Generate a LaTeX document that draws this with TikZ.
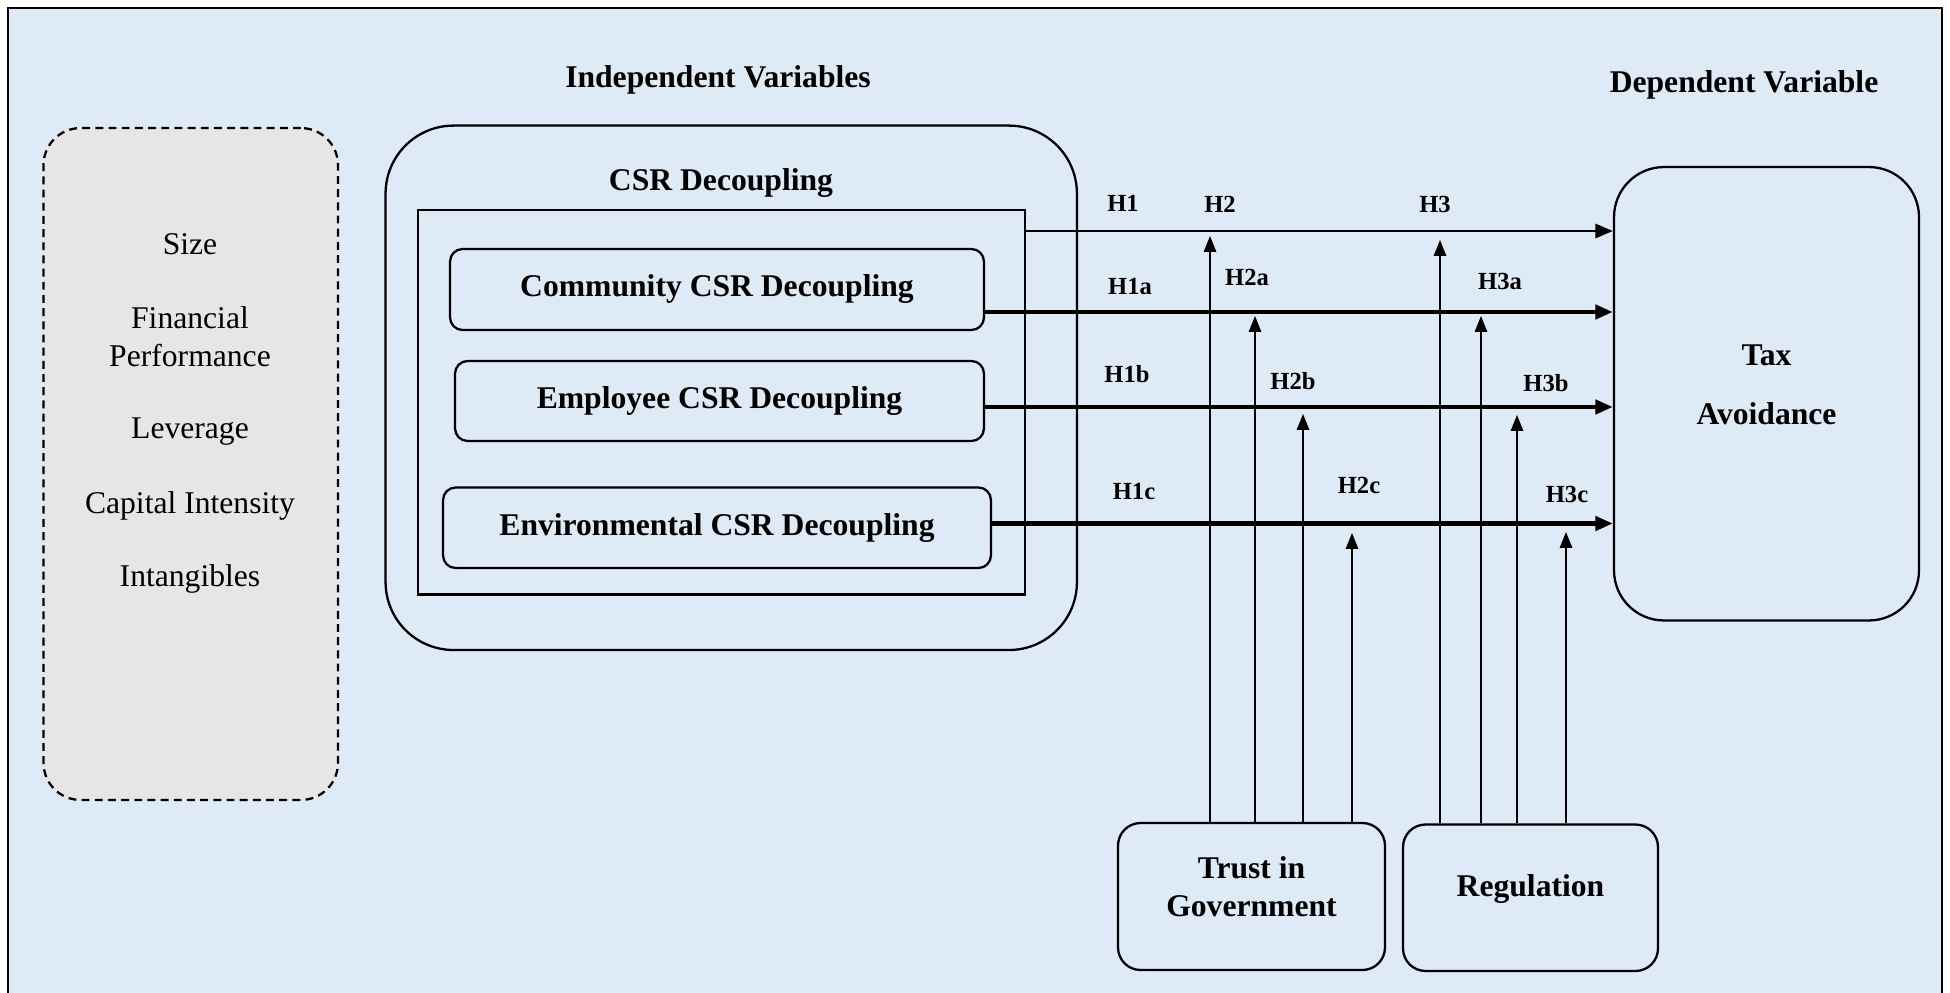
\documentclass[tikz,border=0pt]{standalone}
\usepackage{fontspec}
\setmainfont{Liberation Serif}
\usetikzlibrary{arrows.meta}
\definecolor{cBg}{HTML}{DEEAF6}
\definecolor{cCtl}{HTML}{E6E6E6}

\begin{document}
\begin{tikzpicture}[x=0.02cm, y=-0.02cm, font=\fontsize{18}{21.6}\selectfont,
  box/.style={draw, line width=1.3pt, rounded corners=#1, align=center, inner sep=0pt},
  box/.default=0.25cm,
  bold/.style={font=\bfseries\fontsize{18}{21.6}\selectfont},
  hyp/.style={font=\bfseries\fontsize{14}{16}\selectfont},
  mainarrow/.style={-{Triangle[length=10pt, width=8pt]}, line width=2.8pt},
  modarrow/.style={-{Triangle[length=9pt, width=7pt]}, line width=0.9pt}]
  \useasboundingbox (0,0) rectangle (1950,993);
  \draw[fill=cBg, line width=1.5pt] (8,8) rectangle (1942,1010);
  % headings
  \node[bold] (indep) at (718,80) {Independent Variables};
  \node[bold] (dep) at (1744,85) {Dependent Variable};
  % control variables
  \node[box=0.74cm, fill=cCtl, dash pattern=on 4.5pt off 3pt, minimum width=5.89cm, minimum height=13.44cm] (ctl) at (190.75,464) {};
  \foreach \y/\lab [count=\i] in {244/Size, 337/{Financial\\Performance}, 432/Leverage, 506/Capital Intensity, 579/Intangibles}
    \node[align=center] (ctl\i) at (190,\y) {\lab};
  % CSR decoupling
  \node[box=1.36cm, minimum width=13.83cm, minimum height=10.49cm] (csr) at (731.25,387.8) {};
  \node[bold] (csrtitle) at (721,183) {CSR Decoupling};
  \node[draw, line width=1.3pt, inner sep=0pt, minimum width=12.14cm, minimum height=7.69cm] (dims) at (721.5,402.25) {};
  \node[box, bold, minimum width=10.68cm, minimum height=1.62cm] (comm) at (717,289.5) {Community CSR Decoupling};
  \node[box, bold, minimum width=10.58cm, minimum height=1.6cm] (emp) at (719.5,401) {Employee CSR Decoupling};
  \node[box, bold, minimum width=10.96cm, minimum height=1.61cm] (env) at (717,527.75) {Environmental CSR Decoupling};
  % outcome and moderators
  \node[box=1cm, bold, text depth=10pt, minimum width=6.1cm, minimum height=9.07cm] (tax) at (1766.5,393.75) {Tax\\[12pt]Avoidance};
  \node[box=0.45cm, bold, text depth=11pt, minimum width=5.34cm, minimum height=2.94cm] (trust) at (1251.5,896.5) {Trust in\\Government};
  \node[box=0.45cm, bold, text depth=14pt, minimum width=5.1cm, minimum height=2.93cm] (reg) at (1530.5,897.75) {Regulation};
  % direct paths
  \foreach \y/\from/\lw in {231/dims/1.6pt, 312/comm/2.8pt, 407/emp/2.8pt, 523.5/env/2.8pt} {
    \coordinate (row) at (0,\y);
    \draw[mainarrow, line width=\lw] (\from.east |- row) -- (tax.west |- row);}
  % moderating paths
  \foreach \x/\t/\src in {1210/236/trust, 1255/316/trust, 1303/414/trust, 1352/533/trust,
                          1440/240/reg, 1481/316/reg, 1517/415/reg, 1566/532/reg} {
    \coordinate (tip) at (\x,\t);
    \draw[modarrow] (\src.north -| tip) -- (tip);}
  \foreach \x/\y/\lab in {1123/203/H1, 1220/204/H2, 1435/204/H3, 1130/287/H1a, 1247/277/H2a, 1500/281/H3a,
                          1127/374/H1b, 1293/381/H2b, 1546/383/H3b, 1134/491/H1c, 1359/485/H2c, 1567/494/H3c}
    \node[hyp] (\lab) at (\x,\y) {\lab};
\end{tikzpicture}
\end{document}
